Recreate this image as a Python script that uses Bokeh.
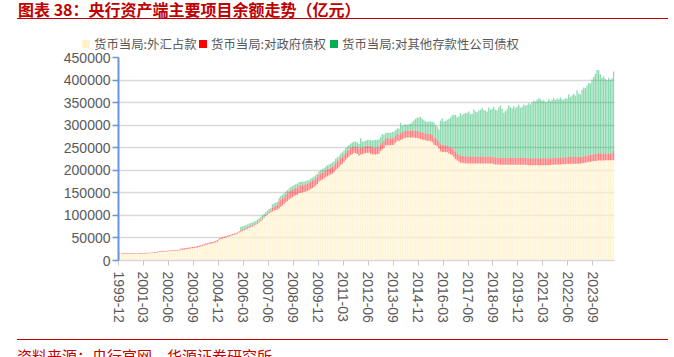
from bokeh.plotting import figure
from bokeh.models import (ColumnDataSource, Range1d, FixedTicker, NumeralTickFormatter, Div)
from bokeh.layouts import column
from bokeh.embed import file_html
from bokeh.resources import INLINE

# ---------------- data (亿元), monthly from 1999-12 ----------------
start_year, start_month = 1999, 12

fx = (
    [14061]
    + [14150, 14250, 14350, 14400, 14450, 14500, 14550, 14600, 14650, 14700, 14750, 14815]
    + [14950, 15050, 15200, 15400, 15600, 15850, 16100, 16400, 16800, 17300, 17900, 18850]
    + [19100, 19300, 19550, 19800, 20100, 20400, 20650, 20900, 21200, 21500, 21850, 22107]
    + [23000, 23600, 24100, 24700, 25300, 25900, 26500, 27100, 27700, 28300, 29000, 29842]
    + [31000, 32100, 33300, 34500, 35500, 36500, 37400, 38300, 39300, 40600, 42300, 45940]
    + [47500, 48600, 49700, 50900, 52100, 53400, 54600, 55700, 56900, 58300, 59900, 62140]
    + [64000, 65600, 67200, 68800, 70400, 72000, 73600, 75200, 77000, 79000, 81300, 84361]
    + [87400, 90900, 94800, 98400, 101500, 104600, 106500, 108600, 110600, 111800, 113200, 115169]
    + [119100, 121800, 125000, 128900, 132000, 135000, 138200, 140000, 142900, 144600, 145900, 149624]
    + [150200, 150600, 151700, 152900, 154300, 155900, 158700, 160800, 163100, 166200, 169600, 175155]
    + [177100, 179300, 181700, 184300, 186800, 188700, 190400, 192700, 195600, 200600, 203400, 206767]
    + [211500, 214500, 218800, 223600, 227100, 230300, 233800, 235700, 238600, 237500, 236300, 232389]
    + [234900, 235400, 237100, 237600, 238800, 238600, 236900, 235700, 235100, 234800, 235300, 236670]
    + [242500, 246500, 249500, 255000, 256000, 255700, 255500, 255800, 257200, 261600, 265600, 264270]
    + [267000, 269000, 271000, 272000, 272500, 272700, 272800, 272600, 272400, 271800, 271500, 270681]
    + [269800, 268500, 267100, 266300, 265500, 265600, 265000, 262100, 256500, 255500, 253200, 248538]
    + [242300, 240000, 240600, 240200, 239700, 237100, 235700, 233500, 229000, 225000, 221400, 219425]
    + [216900, 216500, 215800, 215400, 215100, 215000, 215100, 215200, 215300, 215000, 215200, 214788]
    + [215000, 215100, 215200, 215300, 215000, 215000, 215100, 215200, 213600, 213000, 212600, 212557]
    + [212500, 212400, 212350, 212300, 212300, 212300, 212300, 212300, 212300, 212300, 212300, 212317]
    + [212300, 212300, 212300, 212000, 211800, 211400, 211300, 211300, 211300, 211300, 211300, 211308]
    + [211300, 211300, 211300, 211300, 211300, 211300, 211600, 212000, 212400, 212600, 212800, 212867]
    + [213000, 213200, 213300, 213600, 213800, 214000, 214200, 214400, 214500, 214600, 214700, 214712]
    + [215000, 215500, 216000, 216800, 217500, 218200, 219000, 219800, 220400, 220800, 221200, 221500]
    + [221700, 221800, 221900, 222000, 222000, 222000, 222000, 222100, 222200]
)

gov = (
    [1583]
    + [1583, 1583, 1583, 1583, 1583, 1583, 1583, 1583, 1583, 1583, 1583, 1583]
    + [1583, 1583, 1583, 1583, 1583, 1583, 1583, 1583, 1583, 1583, 1583, 1583]
    + [1583, 1583, 1583, 1583, 1583, 1583, 1583, 1583, 1583, 1583, 1583, 1583]
    + [2901, 2901, 2901, 2901, 2901, 2901, 2901, 2901, 2901, 2901, 2901, 2901]
    + [2970, 2970, 2970, 2970, 2970, 2970, 2970, 2970, 2970, 2970, 2970, 2970]
    + [2893, 2893, 2893, 2893, 2893, 2893, 2893, 2893, 2893, 2893, 2893, 2893]
    + [2856, 2856, 2856, 2856, 2856, 2856, 2856, 2856, 2856, 2856, 2856, 2856]
    + [2856, 2856, 2856, 2856, 2856, 2856, 2856, 9056, 9156, 9156, 9156, 16318]
    + [16318, 16317, 16317, 16300, 16300, 16250, 16250, 16200, 16200, 16196, 16196, 16196]
    + [16196, 16000, 15900, 15800, 15700, 15700, 15700, 15662, 15662, 15662, 15662, 15662]
    + [15662, 15600, 15500, 15421, 15421, 15421, 15421, 15421, 15421, 15421, 15421, 15421]
    + [15400, 15400, 15400, 15400, 15400, 15400, 15400, 15400, 15400, 15400, 15400, 15400]
    + [15313, 15313, 15313, 15313, 15313, 15313, 15313, 15313, 15313, 15313, 15313, 15313]
    + [15313, 15313, 15313, 15313, 15313, 15313, 15313, 15313, 15313, 15313, 15313, 15313]
    + [15313, 15313, 15313, 15313, 15313, 15313, 15313, 15313, 15313, 15313, 15313, 15313]
    + [15313, 15313, 15313, 15313, 15313, 15313, 15313, 15313, 15313, 15313, 15313, 15313]
    + [15274, 15274, 15274, 15274, 15274, 15274, 15274, 15274, 15274, 15274, 15274, 15274]
    + [15274, 15274, 15274, 15274, 15274, 15274, 15274, 15274, 15274, 15274, 15274, 15274]
    + [15250, 15250, 15250, 15250, 15250, 15250, 15250, 15250, 15250, 15250, 15250, 15250]
    + [15250, 15250, 15250, 15250, 15250, 15250, 15250, 15250, 15250, 15250, 15250, 15250]
    + [15250, 15250, 15250, 15250, 15250, 15250, 15250, 15250, 15250, 15250, 15250, 15250]
    + [15241, 15241, 15241, 15241, 15241, 15241, 15241, 15241, 15241, 15241, 15241, 15241]
    + [15241, 15241, 15241, 15241, 15241, 15241, 15241, 15241, 15241, 15241, 15241, 15241]
    + [15240, 15240, 15240, 15240, 15240, 15240, 15240, 15240, 15240, 15240, 15240, 16000]
    + [15240, 15240, 15240, 15240, 15240, 15240, 15240, 17000, 21500]
)

odc = (
    [0]
    + [0, 0, 0, 0, 0, 0, 0, 0, 0, 0, 0, 0]
    + [0, 0, 0, 0, 0, 0, 0, 0, 0, 0, 0, 0]
    + [0, 0, 0, 0, 0, 0, 0, 0, 0, 0, 0, 0]
    + [0, 0, 0, 0, 0, 0, 0, 0, 0, 0, 0, 0]
    + [0, 0, 0, 0, 0, 0, 0, 0, 0, 0, 0, 0]
    + [0, 0, 0, 0, 0, 0, 0, 0, 0, 0, 0, 0]
    + [8000, 7200, 6900, 6700, 6600, 6500, 6500, 6400, 6400, 6500, 6500, 6517]
    + [6600, 6500, 6500, 6400, 6400, 6500, 6600, 6800, 7000, 7300, 7500, 7863]
    + [7800, 7900, 7900, 8000, 8100, 8200, 8300, 8300, 8400, 8400, 8400, 8433]
    + [8300, 8000, 7500, 7200, 7100, 7000, 7100, 7100, 7200, 7100, 7100, 7162]
    + [7300, 7400, 7800, 8500, 8700, 8800, 8900, 9000, 9200, 9300, 9400, 9486]
    + [9800, 9900, 10000, 10000, 10100, 10200, 10200, 10300, 10200, 10200, 10300, 10248]
    + [21000, 13000, 11500, 12500, 13000, 14000, 14500, 15000, 16500, 17000, 16800, 16701]
    + [15800, 18500, 14000, 13000, 11500, 13000, 12500, 13500, 13000, 12000, 11500, 13148]
    + [23000, 14500, 15000, 14000, 13000, 14000, 15500, 18500, 23000, 27000, 30000, 31000]
    + [33000, 30000, 28500, 27000, 26000, 27000, 28000, 30000, 34000, 30000, 28000, 26626]
    + [53000, 60000, 52000, 54000, 57000, 62000, 66000, 73000, 79000, 82000, 81000, 84740]
    + [95000, 91000, 95000, 96000, 97000, 100000, 94000, 95000, 104000, 100000, 98000, 102230]
    + [104000, 108000, 103000, 102000, 100000, 109000, 104000, 106000, 112000, 106000, 105000, 111517]
    + [116000, 108000, 100000, 104000, 108000, 116000, 112000, 110000, 115000, 110000, 113000, 117749]
    + [111000, 113000, 118000, 116000, 118000, 122000, 119000, 124000, 128000, 126000, 130000, 133355]
    + [131000, 127000, 130000, 125000, 126000, 131000, 126000, 129000, 133000, 128000, 131000, 129612]
    + [133000, 129000, 127000, 131000, 130000, 139000, 133000, 136000, 140000, 136000, 147000, 140128]
    + [138000, 148000, 152000, 150000, 155000, 160000, 158000, 166000, 171000, 178000, 186000, 184000]
    + [176000, 168000, 171000, 165000, 163000, 168000, 163000, 165000, 175000]
)

series_names = ["货币当局:外汇占款", "货币当局:对政府债权", "货币当局:对其他存款性公司债权"]
y_ticks = [0, 50000, 100000, 150000, 200000, 250000, 300000, 350000, 400000, 450000]
label_step = 15

title_text = "图表 38：央行资产端主要项目余额走势（亿元）"
source_text = "资料来源：央行官网，华源证券研究所"

# ---------------- build ----------------
n = len(fx)
months = []
yy, mm = start_year, start_month
for _ in range(n):
    months.append(f"{yy}-{mm:02d}")
    mm += 1
    if mm > 12:
        mm = 1
        yy += 1

src = ColumnDataSource(dict(x=[i + 0.5 for i in range(n)], fx=fx, gov=gov, odc=odc))

W, PAGE_H = 674, 357
TOP_H, BOT_H = 50, 20
FIG_H = PAGE_H - TOP_H - BOT_H       # figure occupies page y 50..337
FL, FR = 118, 614                    # frame left/right (page px)
FT, FB = 57, 260                     # frame top/bottom (page px)
RED = "#C00000"

colors = ["#FFF2CC", "#FF0000", "#00B050"]
alphas = [0.85, 0.5, 0.45]

p = figure(width=W, height=FIG_H, output_backend="svg", toolbar_location=None,
           x_range=Range1d(0, n), y_range=Range1d(0, 450000),
           min_border_left=FL, min_border_right=W - FR,
           min_border_top=FT - TOP_H, min_border_bottom=(PAGE_H - BOT_H) - FB)
p.outline_line_color = None
p.border_fill_color = "white"
p.background_fill_color = "white"

p.vbar_stack(["fx", "gov", "odc"], x="x", width=0.8, source=src,
             fill_color=colors, fill_alpha=alphas, line_color=None)

# axes
p.xgrid.grid_line_color = None
p.ygrid.grid_line_color = "#D9D9D9"
p.ygrid.grid_line_width = 1.5
p.ygrid.ticker = FixedTicker(ticks=y_ticks)

p.yaxis.ticker = FixedTicker(ticks=y_ticks)
p.yaxis.formatter = NumeralTickFormatter(format="0")
p.yaxis.axis_line_color = "#6A93D8"
p.yaxis.axis_line_width = 2
p.yaxis.major_tick_line_color = "#6A93D8"
p.yaxis.major_tick_line_width = 1.5
p.yaxis.major_tick_out = 6
p.yaxis.major_tick_in = 0
p.yaxis.minor_tick_line_color = None
p.yaxis.major_label_standoff = 2
p.yaxis.major_label_text_font = "Liberation Sans"
p.yaxis.major_label_text_font_size = "14px"
p.yaxis.major_label_text_color = "#595959"

tick_pos = list(range(0, n, label_step))
p.xaxis.ticker = FixedTicker(ticks=tick_pos)
p.xaxis.major_label_overrides = {t: months[t] for t in tick_pos}
p.xaxis.major_label_orientation = "vertical"
p.xaxis.axis_line_color = "#D9D9D9"
p.xaxis.axis_line_width = 1.5
p.xaxis.major_tick_line_color = "#C8C8C8"
p.xaxis.major_tick_out = 5
p.xaxis.major_tick_in = 0
p.xaxis.minor_tick_line_color = None
p.xaxis.major_label_standoff = 6
p.xaxis.major_label_text_font = "Liberation Sans"
p.xaxis.major_label_text_font_size = "14px"
p.xaxis.major_label_text_color = "#595959"

# ---- header: title, red rule, legend (HTML) ----
leg_sq_left = [82, 199, 330]
leg_txt_left = [94, 211, 342]
legend_html = ""
for nm, c, sx, tx in zip(series_names, colors, leg_sq_left, leg_txt_left):
    legend_html += (f'<div style="position:absolute;left:{sx}px;top:40px;width:8px;height:8px;background:{c};"></div>'
                    f'<div style="position:absolute;left:{tx}px;top:36.5px;white-space:nowrap;'
                    "font-family:'Noto Sans CJK SC';font-size:12.4px;line-height:15px;"
                    f'color:#595959;">{nm}</div>')

title_div = Div(width=W, height=TOP_H, margin=0, text=(
    f'<div style="position:relative;width:{W}px;height:{TOP_H}px;">'
    '<div style="position:absolute;left:18px;top:1px;white-space:nowrap;'
    "font-family:'Noto Sans CJK SC';font-weight:bold;font-size:16px;line-height:16px;"
    f'color:{RED};">{title_text}</div>'
    f'<div style="position:absolute;left:17px;top:17.5px;width:651px;height:1.5px;background:{RED};"></div>'
    + legend_html +
    '</div>'))

source_div = Div(width=W, height=BOT_H, margin=0, text=(
    f'<div style="position:relative;width:{W}px;height:{BOT_H}px;">'
    f'<div style="position:absolute;left:17px;top:1.5px;width:651px;height:1.5px;background:{RED};"></div>'
    '<div style="position:absolute;left:17px;top:10.5px;white-space:nowrap;'
    "font-family:'Noto Sans CJK SC';font-size:15px;line-height:15px;"
    f'color:{RED};">{source_text}</div>'
    '</div>'))

layout = column(title_div, p, source_div, spacing=0, margin=0)
open("out.html", "w").write(file_html(layout, INLINE))
